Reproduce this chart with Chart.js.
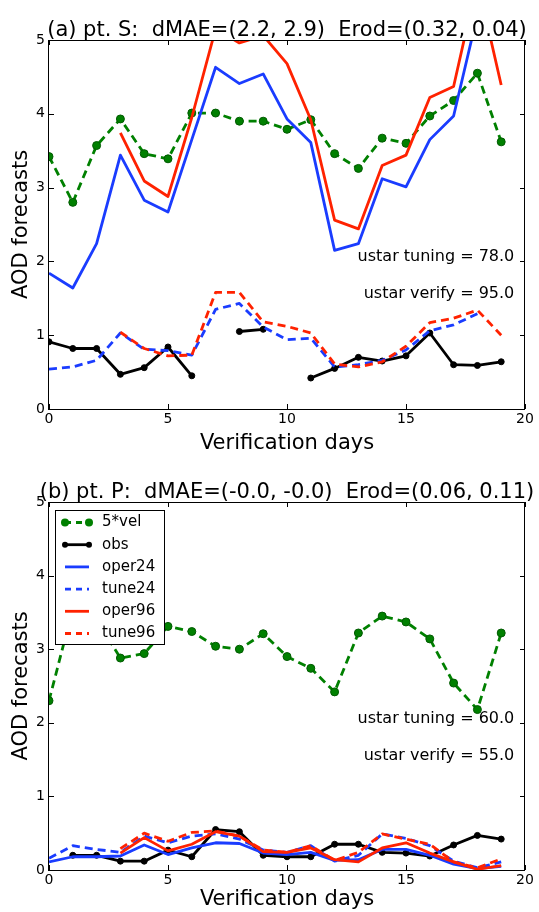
<!DOCTYPE html>
<html>
<head>
<meta charset="utf-8">
<script src="https://cdn.jsdelivr.net/npm/chart.js@4/dist/chart.umd.min.js"></script>
<style>
  html, body { margin: 0; padding: 0; background: #fff; }
  #wrap { position: relative; width: 539px; height: 912px; overflow: hidden; }
  canvas { position: absolute; left: 0; }
  #chartS { top: 0; }
  #chartP { top: 456px; }
</style>
</head>
<body>
<div id="wrap">
  <canvas id="chartS" width="539" height="456"></canvas>
  <canvas id="chartP" width="539" height="456"></canvas>
</div>
<script>
// dias de verificacion
const days = [0, 1, 2, 3, 4, 5, 6, 7, 8, 9, 10, 11, 12, 13, 14, 15, 16, 17, 18, 19];
const seriesNames = ['5*vel', 'obs', 'oper24', 'tune24', 'oper96', 'tune96'];
const xTicks = [0, 5, 10, 15, 20];
const yTicks = [0, 1, 2, 3, 4, 5];

// (a) pt. S
const velS    = [3.42, 2.80, 3.57, 3.93, 3.46, 3.39, 4.01, 4.01, 3.90, 3.90, 3.79, 3.92, 3.46, 3.26, 3.67, 3.60, 3.97, 4.18, 4.55, 3.62];
const obsS    = [0.91, 0.82, 0.82, 0.47, 0.56, 0.84, 0.45, null, 1.05, 1.08, null, 0.42, 0.55, 0.70, 0.65, 0.72, 1.03, 0.60, 0.59, 0.64];
const oper24S = [1.84, 1.64, 2.24, 3.44, 2.83, 2.67, 3.65, 4.63, 4.41, 4.54, 3.93, 3.61, 2.15, 2.24, 3.12, 3.01, 3.65, 3.97, 5.34, null];
const tune24S = [0.54, 0.57, 0.66, 1.03, 0.81, 0.79, 0.73, 1.35, 1.43, 1.11, 0.94, 0.96, 0.57, 0.60, 0.66, 0.80, 1.06, 1.14, 1.29, null];
const oper96S = [null, null, null, 3.74, 3.09, 2.88, 3.95, 5.15, 4.96, 5.06, 4.68, 3.92, 2.56, 2.44, 3.30, 3.44, 4.22, 4.37, 5.80, 4.39];
const tune96S = [null, null, null, 1.04, 0.82, 0.72, 0.73, 1.58, 1.58, 1.18, 1.12, 1.03, 0.61, 0.57, 0.64, 0.85, 1.17, 1.23, 1.34, 1.00];

// (b) pt. P
const velP    = [2.30, 3.55, 3.40, 2.88, 2.94, 3.31, 3.24, 3.04, 3.00, 3.21, 2.90, 2.74, 2.42, 3.22, 3.45, 3.37, 3.14, 2.54, 2.18, 3.22];
const obsP    = [null, 0.20, 0.20, 0.12, 0.12, 0.27, 0.18, 0.55, 0.52, 0.20, 0.18, 0.18, 0.35, 0.35, 0.24, 0.23, 0.19, 0.34, 0.47, 0.42];
const oper24P = [0.11, 0.18, 0.18, 0.19, 0.34, 0.21, 0.30, 0.37, 0.36, 0.23, 0.21, 0.24, 0.13, 0.14, 0.28, 0.28, 0.20, 0.08, 0.02, 0.05];
const tune24P = [0.16, 0.33, 0.28, 0.24, 0.46, 0.37, 0.46, 0.49, 0.42, 0.27, 0.24, 0.33, 0.12, 0.20, 0.49, 0.43, 0.33, 0.12, 0.03, 0.11];
const oper96P = [null, null, null, 0.23, 0.44, 0.26, 0.35, 0.52, 0.46, 0.25, 0.24, 0.30, 0.14, 0.11, 0.30, 0.37, 0.23, 0.11, 0.01, 0.06];
const tune96P = [null, null, null, 0.29, 0.50, 0.39, 0.51, 0.53, 0.46, 0.27, 0.24, 0.33, 0.13, 0.24, 0.49, 0.42, 0.35, 0.11, 0.03, 0.15];

const FONT = '"DejaVu Sans", "Liberation Sans", sans-serif';
const GREEN = '#008000', BLACK = '#000000', BLUE = '#1a3cff', RED = '#ff2200';
const DASH = [8, 5];

// estilo de cada serie, en el orden de la leyenda
const styles = [
  { color: GREEN, dash: DASH, marker: 4 },
  { color: BLACK, dash: [],   marker: 3 },
  { color: BLUE,  dash: [],   marker: 0 },
  { color: BLUE,  dash: DASH, marker: 0 },
  { color: RED,   dash: [],   marker: 0 },
  { color: RED,   dash: DASH, marker: 0 }
];

function buildDatasets(allSeries) {
  return allSeries.map((vals, i) => {
    const st = styles[i];
    return {
      label: seriesNames[i],
      data: days.map((d, k) => ({ x: d, y: vals[k] })),
      borderColor: st.color,
      backgroundColor: st.color,
      borderWidth: 2.8,
      borderDash: st.dash,
      borderJoinStyle: 'round',
      pointRadius: st.marker,
      pointHoverRadius: st.marker,
      pointBackgroundColor: st.color,
      pointBorderColor: i === 0 ? '#005a00' : st.color,
      pointBorderWidth: 1,
      tension: 0,
      spanGaps: false,
      clip: 0,
      order: allSeries.length - i   // la ultima serie queda encima
    };
  });
}

// marco, ticks hacia dentro, titulo, textos y leyenda
function decorPlugin(opts) {
  return {
    id: 'decor',
    afterDatasetsDraw(chart) {
      const { ctx, chartArea: a, scales: { x, y } } = chart;
      ctx.save();
      ctx.strokeStyle = '#000';
      ctx.lineWidth = 1;
      ctx.setLineDash([]);
      ctx.strokeRect(a.left - 0.5, a.top + 0.5, a.right - a.left, a.bottom - a.top);

      ctx.beginPath();
      xTicks.forEach(v => {
        const px = Math.round(x.getPixelForValue(v)) + 0.5;
        ctx.moveTo(px, a.bottom); ctx.lineTo(px, a.bottom - 5);
        ctx.moveTo(px, a.top); ctx.lineTo(px, a.top + 5);
      });
      yTicks.forEach(v => {
        const py = Math.round(y.getPixelForValue(v)) + 0.5;
        ctx.moveTo(a.left, py); ctx.lineTo(a.left + 5, py);
        ctx.moveTo(a.right, py); ctx.lineTo(a.right - 5, py);
      });
      ctx.stroke();

      // titulo
      ctx.fillStyle = '#000';
      ctx.font = '21px ' + FONT;
      ctx.textAlign = 'center';
      ctx.textBaseline = 'alphabetic';
      ctx.fillText(opts.title, (a.left + a.right) / 2, a.top - 4.5);

      // textos ustar
      ctx.font = '16px ' + FONT;
      ctx.textAlign = 'right';
      ctx.fillText(opts.tuning, x.getPixelForValue(19.55), y.getPixelForValue(2.0));
      ctx.fillText(opts.verify, x.getPixelForValue(19.55), y.getPixelForValue(1.5));

      if (opts.legend) {
        const bx = a.left + 6, by = a.top + 8, bw = 109, bh = 134;
        ctx.fillStyle = '#fff';
        ctx.fillRect(bx, by, bw, bh);
        ctx.strokeStyle = '#000';
        ctx.lineWidth = 1;
        ctx.strokeRect(bx + 0.5, by + 0.5, bw, bh);
        ctx.font = '15px ' + FONT;
        ctx.textAlign = 'left';
        ctx.textBaseline = 'middle';
        styles.forEach((st, i) => {
          const cy = by + 12.5 + i * 22.2;
          const x0 = bx + 10, x1 = bx + 34;
          ctx.strokeStyle = st.color;
          ctx.lineWidth = 2.8;
          ctx.setLineDash(st.dash.length ? [6, 5] : []);
          ctx.beginPath();
          ctx.moveTo(x0, cy); ctx.lineTo(x1, cy);
          ctx.stroke();
          ctx.setLineDash([]);
          if (st.marker) {
            ctx.fillStyle = st.color;
            [x0, x1].forEach(mx => {
              ctx.beginPath();
              ctx.arc(mx, cy, st.marker, 0, Math.PI * 2);
              ctx.fill();
            });
          }
          ctx.fillStyle = '#000';
          ctx.fillText(seriesNames[i], bx + 47, cy);
        });
      }
      ctx.restore();
    }
  };
}

function makeChart(id, allSeries, opts) {
  const ctx = document.getElementById(id).getContext('2d');
  return new Chart(ctx, {
    type: 'line',
    data: { datasets: buildDatasets(allSeries) },
    plugins: [decorPlugin(opts)],
    options: {
      responsive: false,
      animation: false,
      events: [],
      layout: { padding: { top: opts.padTop, right: 14, bottom: 0, left: 0 } },
      plugins: {
        legend: { display: false },
        tooltip: { enabled: false },
        title: { display: false }
      },
      scales: {
        x: {
          type: 'linear',
          min: 0, max: 20,
          afterFit: s => { s.height = opts.xHeight; },
          afterBuildTicks: s => { s.ticks = xTicks.map(v => ({ value: v })); },
          grid: { display: false, drawTicks: false },
          border: { display: false },
          ticks: { color: '#000', font: { family: FONT, size: 14 }, padding: 2, maxRotation: 0 },
          title: { display: true, text: 'Verification days', color: '#000',
                   font: { family: FONT, size: 21 }, padding: { top: opts.xTitlePad, bottom: 0 } }
        },
        y: {
          min: 0, max: 5,
          afterFit: s => { s.width = 49; },
          afterBuildTicks: s => { s.ticks = yTicks.map(v => ({ value: v })); },
          grid: { display: false, drawTicks: false },
          border: { display: false },
          ticks: { color: '#000', font: { family: FONT, size: 14 }, padding: 4 },
          title: { display: true, text: 'AOD forecasts', color: '#000',
                   font: { family: FONT, size: 21 }, padding: { top: 9, bottom: 0 } }
        }
      }
    }
  });
}

makeChart('chartS', [velS, obsS, oper24S, tune24S, oper96S, tune96S], {
  title: '(a) pt. S:  dMAE=(2.2, 2.9)  Erod=(0.32, 0.04)',
  tuning: 'ustar tuning = 78.0',
  verify: 'ustar verify = 95.0',
  legend: false,
  padTop: 40, xHeight: 47, xTitlePad: 5
});

makeChart('chartP', [velP, obsP, oper24P, tune24P, oper96P, tune96P], {
  title: '(b) pt. P:  dMAE=(-0.0, -0.0)  Erod=(0.06, 0.11)',
  tuning: 'ustar tuning = 60.0',
  verify: 'ustar verify = 55.0',
  legend: true,
  padTop: 46, xHeight: 42, xTitlePad: 0
});
</script>
</body>
</html>
